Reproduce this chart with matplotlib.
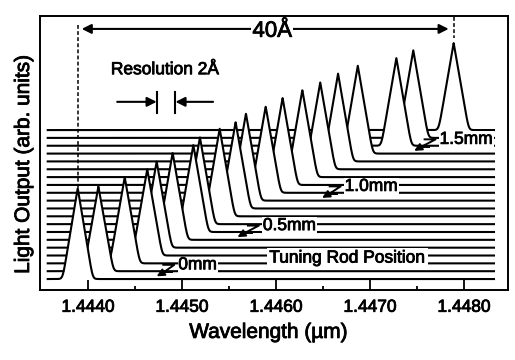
import numpy as np
import matplotlib
matplotlib.use('Agg')
import matplotlib.pyplot as plt
import matplotlib.patheffects as pe

plt.rcParams['font.family'] = ['Liberation Sans', 'DejaVu Sans']

# Posicion del pico de cada traza (um) y altura (unidades arb.), de abajo hacia arriba
peak_wavelength = [1.44389, 1.44411, 1.44439, 1.44463, 1.44473, 1.44490, 1.44512,
                   1.44519, 1.44540, 1.44557, 1.44568, 1.44589, 1.44607, 1.44628,
                   1.44647, 1.44666, 1.44687, 1.44728, 1.44746, 1.44789]
peak_height = [11.6, 10.8, 11.0, 11.0, 11.0, 11.1, 11.1, 11.1, 11.2, 11.0,
               11.1, 11.0, 11.1, 11.1, 11.1, 11.2, 11.2, 11.2, 11.2, 11.1]

# Etiquetas de posicion de la varilla y la traza a la que apuntan
rod_labels = ['0mm', '0.5mm', '1.0mm', '1.5mm']
rod_trace = [0, 5, 10, 16]

x_ticks = [1.4440, 1.4450, 1.4460, 1.4470, 1.4480]
x_minor = [1.4445, 1.4455, 1.4465, 1.4475]

# Parametros de dibujo
offset0, offset_step = 1.4, 1.0
half_width = 0.00016
soft = 0.065
x_start, x_end = 1.44356, 1.44833
PX_X = 0.001 / 94   # um por pixel
PX_Y = 1 / 7.84     # unidades por pixel
bold = [pe.withStroke(linewidth=0.6, foreground='black')]

fig = plt.figure(figsize=(5.15, 3.6), dpi=100)
ax = fig.add_axes([0.0777, 0.1944, 0.9087, 0.7612])
ax.set_xlim(1.443489, 1.448468)
ax.set_ylim(0, 34.95)

x = np.linspace(x_start, x_end, 4000)
n = len(peak_wavelength)
for k in range(n - 1, -1, -1):
    base = offset0 + k * offset_step
    tri = 1 - np.abs(x - peak_wavelength[k]) / half_width
    y = base + peak_height[k] * soft * np.logaddexp(0, tri / soft)
    z = 2 * (n - k)
    ax.fill_between(x, 0, y, color='white', lw=0, zorder=z)
    ax.plot(x, y, color='black', lw=1.5, zorder=z + 1, solid_capstyle='butt')
baselines = [offset0 + k * offset_step for k in range(n)]

# Lineas punteadas y flecha de 40 A
top_first = baselines[0] + peak_height[0]
ax.plot([peak_wavelength[0]] * 2, [33.8, top_first], color='black', lw=1.1,
        ls=(0, (2.5, 1.5)), zorder=60)
ax.plot([peak_wavelength[-1]] * 2, [34.8, 32.1], color='black', lw=1.1,
        ls=(0, (2.5, 1.5)), zorder=60)
ax.annotate('', xy=(peak_wavelength[0] + 4 * PX_X, 33.3),
            xytext=(peak_wavelength[-1] - 5 * PX_X, 33.3),
            arrowprops=dict(arrowstyle='<|-|>', color='black', lw=1.5,
                            mutation_scale=14, shrinkA=0, shrinkB=0), zorder=60)
ax.text(1.44596, 33.0, '40Å', fontsize=16, ha='center', va='center', zorder=61,
        bbox=dict(facecolor='white', edgecolor='none', pad=1), path_effects=bold)

# Resolucion 2 A
r1, r2 = 1.44473, 1.44493
ax.text((r1 + r2) / 2 - 0.00001, 28.1, 'Resolution 2Å', fontsize=12.5,
        ha='center', va='center', zorder=61, path_effects=bold)
for r in (r1, r2):
    ax.plot([r, r], [22.6, 25.3], color='black', lw=1.5, zorder=60)
ax.annotate('', xy=(r1, 24.0), xytext=(1.44431, 24.0),
            arrowprops=dict(arrowstyle='-|>', color='black', lw=1.5,
                            mutation_scale=14, shrinkA=0, shrinkB=0), zorder=60)
ax.annotate('', xy=(r2, 24.0), xytext=(1.44533, 24.0),
            arrowprops=dict(arrowstyle='-|>', color='black', lw=1.5,
                            mutation_scale=14, shrinkA=0, shrinkB=0), zorder=60)

# Etiquetas con flecha en Z
label_left = [1.44496, 1.44586, 1.44673, 1.44774]
tip_x = [1.44473, 1.44559, 1.44649, 1.44747]
for lab, k, lx, tx in zip(rod_labels, rod_trace, label_left, tip_x):
    ty = baselines[k] + 0.35
    yc = ty + 11.5 * PX_Y
    ax.text(lx, yc, lab, fontsize=12.5, ha='left', va='center', zorder=70,
            bbox=dict(facecolor='white', edgecolor='none', pad=0.5),
            path_effects=bold)
    xs = [lx - 15 * PX_X, lx - 4 * PX_X, tx + 7 * PX_X]
    ys = [yc, yc, ty + 4 * PX_Y]
    ax.plot(xs, ys, color='black', lw=1.4, zorder=71)
    ax.plot([tx + 7 * PX_X, tx + 15 * PX_X], [ty + 4 * PX_Y] * 2,
            color='black', lw=1.4, zorder=71)
    ax.annotate('', xy=(tx, ty), xytext=(tx + 7 * PX_X, ty + 4 * PX_Y),
                arrowprops=dict(arrowstyle='-|>', color='black', lw=1.4,
                                mutation_scale=11, shrinkA=0, shrinkB=0),
                zorder=71)

ax.text(1.44676, 4.08, 'Tuning Rod Position', fontsize=12.5, ha='center',
        va='center', zorder=70, path_effects=bold,
        bbox=dict(facecolor='white', edgecolor='none', pad=1.5))

# Ejes
ax.set_xticks(x_ticks)
ax.set_xticklabels(['%.4f' % t for t in x_ticks])
ax.set_xticks(x_minor, minor=True)
ax.set_yticks([])
ax.tick_params(axis='x', which='major', direction='in', length=7, width=1.3,
               labelsize=12.5, pad=7, top=False)
ax.tick_params(axis='x', which='minor', direction='in', length=3, width=1.3,
               top=False)
for t in ax.get_xticklabels():
    t.set_path_effects(bold)
ax.xaxis.set_zorder(100)
for s in ax.spines.values():
    s.set_linewidth(1.4)
    s.set_zorder(100)

ax.set_xlabel('Wavelength (µm)', fontsize=15, path_effects=bold)
ax.xaxis.set_label_coords(0.489, -0.12)
ax.set_ylabel('Light Output (arb. units)', fontsize=15, path_effects=bold)
ax.yaxis.set_label_coords(-0.015, 0.46)

fig.savefig('out.png', dpi=100)
